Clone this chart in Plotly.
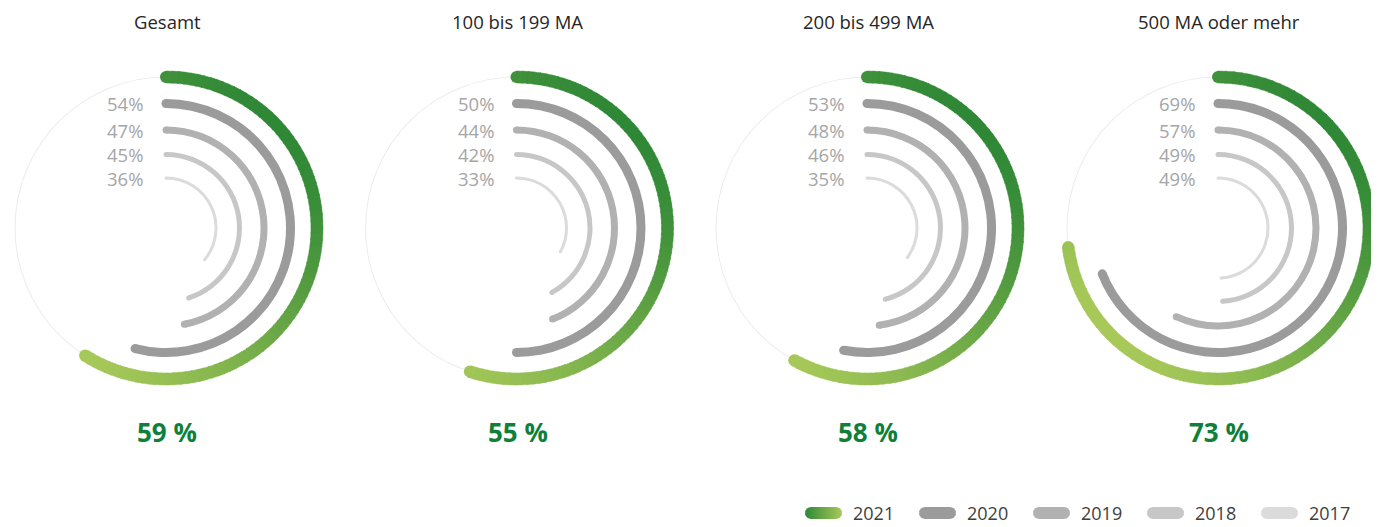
import numpy as np
import plotly.graph_objects as go

# ---------------- data ----------------
categories = ["Gesamt", "100 bis 199 MA", "200 bis 499 MA", "500 MA oder mehr"]
years = ["2021", "2020", "2019", "2018", "2017"]
v2021 = [59, 55, 58, 73]
v2020 = [54, 50, 53, 69]
v2019 = [47, 44, 48, 57]
v2018 = [45, 42, 46, 49]
v2017 = [36, 33, 35, 49]
big_labels = ["59 %", "55 %", "58 %", "73 %"]

# ---------------- style ----------------
WIN_W, WIN_H = 1379, 527
OFF = 8                      # page body margin
W, H = WIN_W - OFF, WIN_H - OFF
FONT = "Open Sans"
centers_x = [166, 516.5, 867, 1218]   # window pixels
center_y = 228
HALF = 158
RADII = [151, 124.5, 98, 73.5, 50]
THICK = [12, 9, 7, 5, 3]
GRAY = ["#9b9b9b", "#b1b1b1", "#c7c7c7", "#dbdbdb"]
DARK = (47, 136, 54)
LIGHT = (168, 201, 89)
TRACK = "#ececec"


def px(x):
    return min(max((x - OFF) / W, 0), 1)


def py(y):
    return min(max(1 - (y - OFF) / H, 0), 1)


def hexc(c):
    return "#%02x%02x%02x" % tuple(int(round(x)) for x in c)


def grad(theta_deg):
    th = np.radians(theta_deg)
    p = (np.sin(th) + np.cos(th)) / np.sqrt(2)
    t = (1 - p) / 2
    return hexc([DARK[j] + (LIGHT[j] - DARK[j]) * t for j in range(3)])


fig = go.Figure()
gray_series = [v2020, v2019, v2018, v2017]

for i, cat in enumerate(categories):
    sub = "polar" if i == 0 else f"polar{i + 1}"
    fig.add_trace(go.Barpolar(r=[1], base=[RADII[0] - 0.5], theta=[180], width=[360],
                              marker=dict(color=TRACK, line=dict(width=0)),
                              subplot=sub, showlegend=False, hoverinfo="skip"))
    for k, vals in enumerate(gray_series):
        ang = vals[i] * 3.6
        rk, tk, col = RADII[k + 1], THICK[k + 1], GRAY[k]
        fig.add_trace(go.Barpolar(r=[tk], base=[rk - tk / 2], theta=[ang / 2], width=[ang],
                                  marker=dict(color=col, line=dict(width=0)),
                                  subplot=sub, showlegend=False, hoverinfo="skip"))
        fig.add_trace(go.Scatterpolar(r=[rk, rk], theta=[0, ang], mode="markers",
                                      marker=dict(size=tk, color=col, line=dict(width=0)),
                                      cliponaxis=False,
                                      subplot=sub, showlegend=False, hoverinfo="skip"))
    ang = v2021[i] * 3.6
    n = 90
    edges = np.linspace(0, ang, n + 1)
    mids = (edges[:-1] + edges[1:]) / 2
    step = ang / n
    cols = [grad(m) for m in mids]
    fig.add_trace(go.Barpolar(r=[THICK[0]] * n, base=[RADII[0] - THICK[0] / 2] * n,
                              theta=list(mids), width=[step + 0.4] * n,
                              marker=dict(color=cols, line=dict(width=0.5, color=cols)),
                              subplot=sub, showlegend=False, hoverinfo="skip"))
    fig.add_trace(go.Scatterpolar(r=[RADII[0], RADII[0]], theta=[0, ang], mode="markers",
                                  marker=dict(size=THICK[0], color=[grad(0.5), grad(ang - 0.5)],
                                              line=dict(width=0)),
                                  cliponaxis=False,
                                  subplot=sub, showlegend=False, hoverinfo="skip"))

    cx = centers_x[i]
    fig.layout[sub] = dict(
        domain=dict(x=[px(cx - HALF), px(cx + HALF)],
                    y=[py(center_y + HALF), py(center_y - HALF)]),
        radialaxis=dict(visible=False, range=[0, HALF]),
        angularaxis=dict(visible=False, rotation=90, direction="clockwise"),
        bgcolor="rgba(0,0,0,0)",
        barmode="overlay",
        hole=0,
    )

    fig.add_annotation(x=px(cx + 1), y=py(21), xref="paper", yref="paper", text=cat,
                       showarrow=False, xanchor="center", yanchor="middle",
                       font=dict(family=FONT, size=18.5, color="#262626"))
    fig.add_annotation(x=px(cx + 1), y=py(432), xref="paper", yref="paper",
                       text="<b>" + big_labels[i] + "</b>",
                       showarrow=False, xanchor="center", yanchor="middle",
                       font=dict(family=FONT, size=26, color="#0f7f3a"))
    for k, vals in enumerate(gray_series):
        fig.add_annotation(x=px(cx - 21), y=py(center_y - RADII[k + 1]),
                           xref="paper", yref="paper", text=f"{vals[i]}%",
                           showarrow=False, xanchor="right", yanchor="middle",
                           font=dict(family=FONT, size=18.5, color="#a6a6a6"))

# ---------------- custom legend (pill swatches) ----------------
leg_colors = [None] + GRAY
pill_w, pill_h, leg_y = 37, 12, 513
for j, yr in enumerate(years):
    x0 = 805 + j * 114
    r = pill_h / 2
    a = np.linspace(-np.pi / 2, np.pi / 2, 20)
    xs = list(x0 + pill_w - r + r * np.cos(a)) + list(x0 + r - r * np.cos(a))
    ys = list(leg_y + r * np.sin(a)) + list(leg_y - r * np.sin(a))
    xs.append(xs[0]); ys.append(ys[0])
    common = dict(mode="lines", fill="toself", line=dict(width=0), showlegend=False,
                  hoverinfo="skip")
    if j == 0:
        fig.add_trace(go.Scatter(x=xs, y=ys, **common,
                                 fillgradient=dict(type="horizontal",
                                                   colorscale=[[0, hexc(DARK)], [1, hexc(LIGHT)]])))
    else:
        fig.add_trace(go.Scatter(x=xs, y=ys, fillcolor=leg_colors[j], **common))
    fig.add_annotation(x=x0 + 46, y=leg_y, xref="x", yref="y", text=yr, showarrow=False,
                       xanchor="left", yanchor="middle",
                       font=dict(family=FONT, size=18, color="#404040"))

fig.update_layout(
    width=W, height=H,
    margin=dict(l=0, r=0, t=0, b=0),
    paper_bgcolor="white", plot_bgcolor="rgba(0,0,0,0)",
    xaxis=dict(range=[OFF, WIN_W], visible=False, fixedrange=True, domain=[0, 1]),
    yaxis=dict(range=[WIN_H, OFF], visible=False, fixedrange=True, domain=[0, 1]),
    showlegend=False,
    font=dict(family=FONT),
)

fig.write_html("out.html")
